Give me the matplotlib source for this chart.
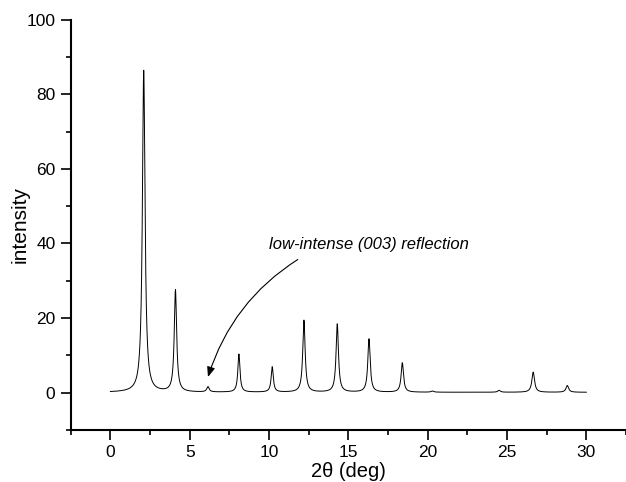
import numpy as np
import matplotlib.pyplot as plt
from matplotlib.ticker import MultipleLocator

plt.rcParams['font.family'] = ['Liberation Sans', 'DejaVu Sans']

# peak positions (2theta), heights and half-widths
peak_pos = [2.1, 4.1, 6.15, 8.1, 10.2, 12.2, 14.3, 16.3, 18.4, 20.3, 24.5, 26.65, 28.8]
peak_height = [86.3, 27.3, 1.4, 10.2, 6.8, 19.3, 18.3, 14.3, 7.9, 0.3, 0.5, 5.4, 1.8]
peak_hwhm = [0.1, 0.09, 0.09, 0.08, 0.08, 0.09, 0.09, 0.09, 0.09, 0.1, 0.1, 0.1, 0.1]
baseline = 0.1

x = np.linspace(0, 30, 6000)
y = np.full_like(x, baseline)
for p, h, w in zip(peak_pos, peak_height, peak_hwhm):
    y += h * w**2 / ((x - p)**2 + w**2)

fig = plt.figure(figsize=(6.26, 4.82), dpi=100)
ax = fig.add_axes([0.113, 0.108, 0.887, 0.851])
ax.plot(x, y, color='black', lw=0.7)

ax.set_xlim(-2.5, 32.5)
ax.set_ylim(-10, 100)
ax.xaxis.set_major_locator(MultipleLocator(5))
ax.xaxis.set_minor_locator(MultipleLocator(2.5))
ax.yaxis.set_major_locator(MultipleLocator(20))
ax.yaxis.set_minor_locator(MultipleLocator(10))
ax.tick_params(which='major', direction='out', length=7, width=1.2, labelsize=12.5, pad=4)
ax.tick_params(which='minor', direction='out', length=3.5, width=1.2)
ax.spines['top'].set_visible(False)
ax.spines['right'].set_visible(False)
ax.spines['left'].set_linewidth(1.5)
ax.spines['bottom'].set_linewidth(1.5)

ax.set_xlabel('2θ (deg)', fontsize=14.5, labelpad=1)
ax.set_ylabel('intensity', fontsize=15, labelpad=-2)

ax.annotate('low-intense (003) reflection', xy=(6.15, 4.2), xytext=(10.0, 37.8),
            fontsize=12, style='italic', ha='left', va='bottom',
            arrowprops=dict(arrowstyle='-|>,head_length=0.5,head_width=0.2',
                            color='black', lw=0.8,
                            connectionstyle='arc3,rad=0.2',
                            shrinkA=7, shrinkB=0, mutation_scale=12,
                            relpos=(0.21, 0.0)))

fig.savefig('out.png', dpi=100)
